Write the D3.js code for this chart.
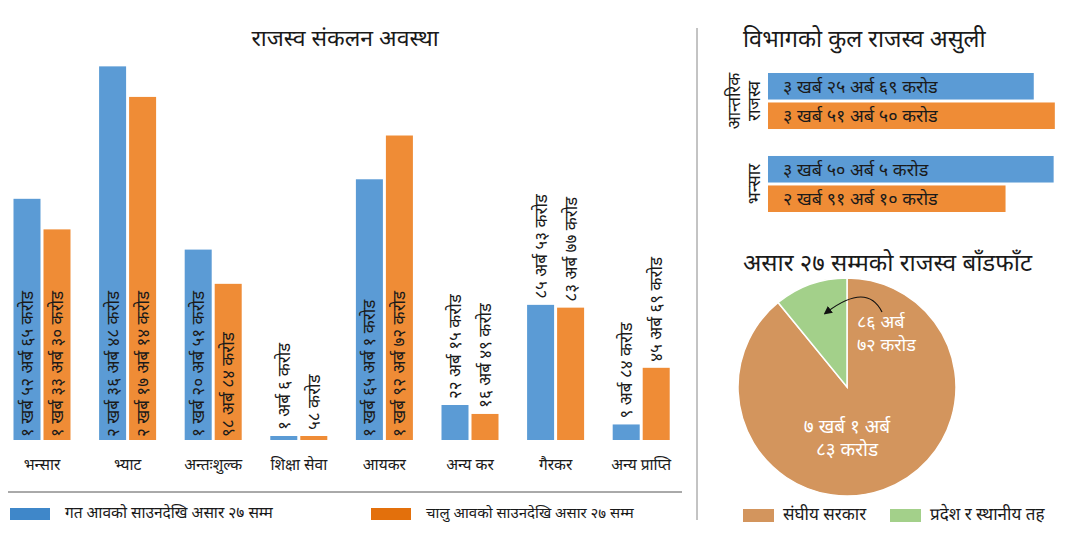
<!DOCTYPE html>
<html>
<head>
<meta charset="utf-8">
<script src="https://cdn.jsdelivr.net/npm/d3@7"></script>
<style>
  body { margin: 0; background: #fff; }
  svg text { font-family: "Noto Sans Devanagari", "Noto Sans", "Lohit Devanagari", sans-serif; fill: #1a1a1a; }
</style>
</head>
<body>
<svg id="chart" width="1090" height="533"></svg>
<script>
// left chart: revenue by heading, values in अर्ब
var categories = ["भन्सार", "भ्याट", "अन्तःशुल्क", "शिक्षा सेवा", "आयकर", "अन्य कर", "गैरकर", "अन्य प्राप्ति"];
var prevValues = [152.65, 236.48, 120.51, 1.06, 165.01, 22.15, 85.53, 9.84];
var currValues = [133.30, 217.14, 98.84, 0.58, 192.72, 16.49, 83.77, 45.69];
var prevLabels = ["१ खर्ब ५२ अर्ब ६५ करोड", "२ खर्ब ३६ अर्ब ४८ करोड", "१ खर्ब २० अर्ब ५१ करोड", "१ अर्ब ६ करोड",
  "१ खर्ब ६५ अर्ब १ करोड", "२२ अर्ब १५ करोड", "८५ अर्ब ५३ करोड", "९ अर्ब ८४ करोड"];
var currLabels = ["१ खर्ब ३३ अर्ब ३० करोड", "२ खर्ब १७ अर्ब १४ करोड", "९८ अर्ब ८४ करोड", "५८ करोड",
  "१ खर्ब ९२ अर्ब ७२ करोड", "१६ अर्ब ४९ करोड", "८३ अर्ब ७७ करोड", "४५ अर्ब ६९ करोड"];
var seriesNames = ["गत आवको साउनदेखि असार २७ सम्म", "चालु आवको साउनदेखि असार २७ सम्म"];

// right top: department totals, in अर्ब
var deptGroups = [["आन्तरिक", "राजस्व"], ["भन्सार"]];
var deptPrev = [325.69, 350.05];
var deptCurr = [351.50, 291.10];
var deptPrevLabels = ["३ खर्ब २५ अर्ब ६९ करोड", "३ खर्ब ५० अर्ब ५ करोड"];
var deptCurrLabels = ["३ खर्ब ५१ अर्ब ५० करोड", "२ खर्ब ९१ अर्ब १० करोड"];

// pie: split till असार २७, in अर्ब
var pieNames = ["संघीय सरकार", "प्रदेश र स्थानीय तह"];
var pieValues = [709.83, 86.72];
var pieLabels = [["७ खर्ब १ अर्ब", "८३ करोड"], ["८६ अर्ब", "७२ करोड"]];

var blue = "#5b9bd5", orange = "#ef8c36";
var svg = d3.select("#chart");

//----- left grouped bars -----
var x0 = d3.scaleBand().domain(categories).range([-0.8, 684]).paddingInner(0.334).paddingOuter(0.167);
var x1 = d3.scaleBand().domain([0, 1]).range([0, x0.bandwidth()]).paddingInner(0.1);
var y = d3.scaleLinear().domain([0, 250]).range([440, 45]);

svg.append("text").attr("x", 345).attr("y", 46).attr("text-anchor", "middle")
  .style("font-size", "23px").text("राजस्व संकलन अवस्था");

var rows = categories.map(function(c, i) {
  return [
    {cat: c, s: 0, v: prevValues[i], label: prevLabels[i]},
    {cat: c, s: 1, v: currValues[i], label: currLabels[i]}
  ];
});

var grp = svg.append("g").selectAll("g").data(rows).join("g")
  .attr("transform", function(d) { return "translate(" + x0(d[0].cat) + ",0)"; });

grp.selectAll("rect").data(function(d) { return d; }).join("rect")
  .attr("x", function(d) { return x1(d.s); })
  .attr("width", x1.bandwidth())
  .attr("y", function(d) { return Math.min(y(d.v), y(0) - 4); })
  .attr("height", function(d) { return Math.max(y(0) - y(d.v), 4); })
  .attr("fill", function(d) { return d.s ? orange : blue; });

// big bars carry their label inside, small ones above
grp.selectAll("text").data(function(d) { return d; }).join("text")
  .attr("transform", function(d) {
    var cx = x1(d.s) + x1.bandwidth() / 2 + 6;
    var ty = d.v > 90 ? y(0) - 3 : Math.min(y(d.v), y(0) - 4) - 6;
    return "translate(" + cx + "," + ty + ") rotate(-90)";
  })
  .style("font-size", "17px")
  .text(function(d) { return d.label; });

svg.append("g").selectAll("text").data(categories).join("text")
  .attr("x", function(d) { return x0(d) + x0.bandwidth() / 2; })
  .attr("y", 470).attr("text-anchor", "middle")
  .style("font-size", "15.5px")
  .text(function(d) { return d; });

svg.append("line").attr("x1", 8).attr("x2", 682).attr("y1", 492).attr("y2", 492)
  .attr("stroke", "#555").attr("stroke-width", 1);

var legX = [10, 371];
var legColors = ["#3f87c9", "#e3700c"];
seriesNames.forEach(function(n, i) {
  svg.append("rect").attr("x", legX[i]).attr("y", 508).attr("width", 40).attr("height", 12).attr("fill", legColors[i]);
  svg.append("text").attr("x", legX[i] + 55).attr("y", 518).style("font-size", i ? "15px" : "15.5px").text(n);
});

// divider
svg.append("line").attr("x1", 697).attr("x2", 697).attr("y1", 28).attr("y2", 520)
  .attr("stroke", "#888").attr("stroke-width", 1);

//----- right top horizontal bars -----
svg.append("text").attr("x", 743).attr("y", 47).style("font-size", "23.5px").text("विभागको कुल राजस्व असुली");

var hx = d3.scaleLinear().domain([0, 360]).range([768, 768 + 360 * 0.816]);
var gy = d3.scaleBand().domain([0, 1]).range([73, 212]).paddingInner(0.325);
var sy = d3.scaleBand().domain([0, 1]).range([0, gy.bandwidth()]).paddingInner(0.1);

var dept = deptGroups.map(function(g, i) {
  return {name: g, i: i, bars: [
    {s: 0, v: deptPrev[i], label: deptPrevLabels[i]},
    {s: 1, v: deptCurr[i], label: deptCurrLabels[i]}
  ]};
});

var dg = svg.append("g").selectAll("g").data(dept).join("g")
  .attr("transform", function(d) { return "translate(0," + gy(d.i) + ")"; });

dg.selectAll("rect").data(function(d) { return d.bars; }).join("rect")
  .attr("x", hx(0)).attr("y", function(d) { return sy(d.s); })
  .attr("width", function(d) { return hx(d.v) - hx(0); })
  .attr("height", sy.bandwidth())
  .attr("fill", function(d) { return d.s ? orange : blue; });

dg.selectAll("text.val").data(function(d) { return d.bars; }).join("text")
  .attr("class", "val")
  .attr("x", hx(0) + 15).attr("y", function(d) { return sy(d.s) + sy.bandwidth() / 2; })
  .attr("dy", "0.36em").style("font-size", "18px")
  .text(function(d) { return d.label; });

dg.each(function(d) {
  var lines = d.name;
  var g = d3.select(this);
  lines.forEach(function(t, k) {
    var lx = 760 - (lines.length - 1 - k) * 20;
    g.append("text")
      .attr("transform", "translate(" + lx + "," + (gy.bandwidth() / 2) + ") rotate(-90)")
      .attr("text-anchor", "middle").style("font-size", "17px").text(t);
  });
});

//----- pie -----
svg.append("text").attr("x", 743).attr("y", 271).style("font-size", "24px").text("असार २७ सम्मको राजस्व बाँडफाँट");

var pieColors = ["#d3955d", "#a3d08a"];
var pie = d3.pie().sort(null)(pieValues);
var arc = d3.arc().innerRadius(0).outerRadius(109);
var pg = svg.append("g").attr("transform", "translate(847,387)");

pg.selectAll("path").data(pie).join("path")
  .attr("d", arc)
  .attr("fill", function(d, i) { return pieColors[i]; })
  .attr("stroke", "#fff").attr("stroke-width", 1.5);

// federal label centred low, local label to the right of the green slice
var pieLabelPos = [{x: 0, y: 46, anchor: "middle"}, {x: 10, y: -59, anchor: "start"}];
pieLabels.forEach(function(lines, i) {
  var t = pg.append("text").attr("text-anchor", pieLabelPos[i].anchor)
    .style("font-size", i ? "18px" : "19px").style("fill", "#fff");
  lines.forEach(function(l, k) {
    t.append("tspan").attr("x", pieLabelPos[i].x).attr("y", pieLabelPos[i].y + k * 23).text(l);
  });
});

svg.append("defs").append("marker").attr("id", "arrow")
  .attr("viewBox", "0 0 10 10").attr("refX", 5).attr("refY", 5)
  .attr("markerWidth", 7).attr("markerHeight", 7).attr("orient", "auto-start-reverse")
  .append("path").attr("d", "M0,0 L10,5 L0,10 z").attr("fill", "#111");

pg.append("path").attr("d", "M35,-75 Q20,-105 -20,-75")
  .attr("fill", "none").attr("stroke", "#111").attr("stroke-width", 1.2)
  .attr("marker-end", "url(#arrow)");

var pieLegX = [743, 890];
pieNames.forEach(function(n, i) {
  svg.append("rect").attr("x", pieLegX[i]).attr("y", 509).attr("width", 31).attr("height", 13).attr("fill", pieColors[i]);
  svg.append("text").attr("x", pieLegX[i] + 40).attr("y", 520).style("font-size", "17px").text(n);
});
</script>
</body>
</html>
